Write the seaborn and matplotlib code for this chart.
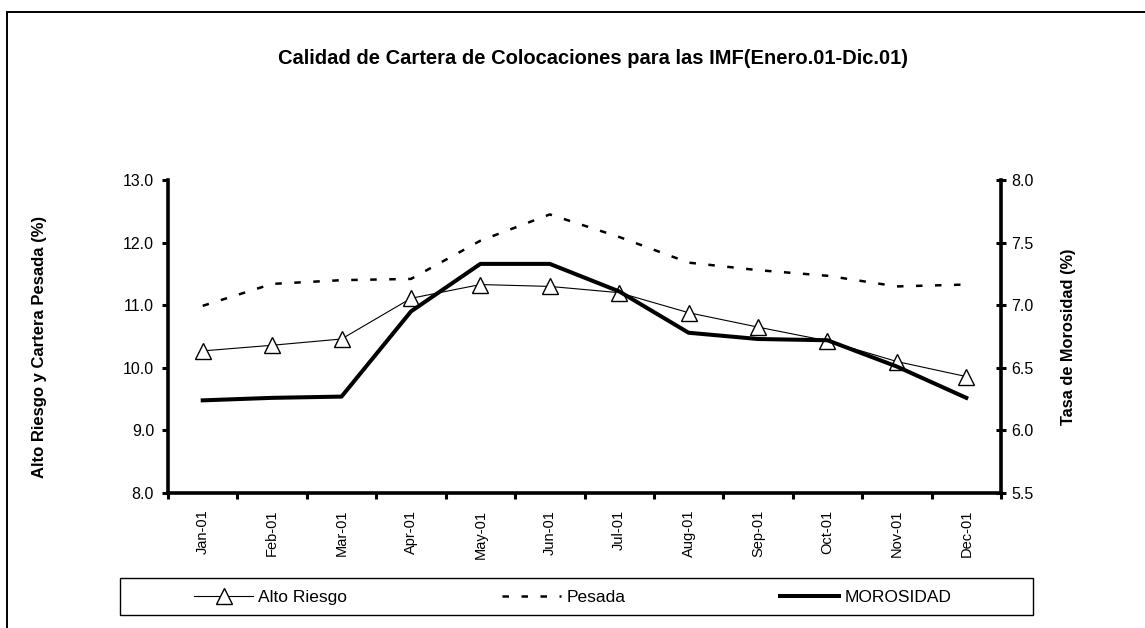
import matplotlib
matplotlib.use("Agg")
import matplotlib.pyplot as plt
from matplotlib.patches import Rectangle
from matplotlib.lines import Line2D
import seaborn as sns
import pandas as pd
import numpy as np

months = ["Jan-01", "Feb-01", "Mar-01", "Apr-01", "May-01", "Jun-01",
          "Jul-01", "Aug-01", "Sep-01", "Oct-01", "Nov-01", "Dec-01"]
alto_riesgo = [10.27, 10.36, 10.46, 11.11, 11.33, 11.30, 11.20, 10.88, 10.65, 10.43, 10.10, 9.86]
pesada = [10.99, 11.34, 11.40, 11.42, 12.03, 12.45, 12.09, 11.68, 11.56, 11.47, 11.30, 11.33]
morosidad = [6.24, 6.26, 6.27, 6.95, 7.33, 7.33, 7.11, 6.78, 6.73, 6.72, 6.51, 6.26]

left_ticks = [8.0, 9.0, 10.0, 11.0, 12.0, 13.0]
right_ticks = [5.5, 6.0, 6.5, 7.0, 7.5, 8.0]

title = "Calidad de Cartera de Colocaciones para las IMF(Enero.01-Dic.01)"
ylabel_left = "Alto Riesgo y Cartera Pesada (%)"
ylabel_right = "Tasa de Morosidad (%)"
legend_labels = ["Alto Riesgo", "Pesada", "MOROSIDAD"]

plt.rcParams['font.family'] = ['Liberation Sans', 'DejaVu Sans']

df = pd.DataFrame({"idx": np.arange(len(months)), "month": months,
                   "alto": alto_riesgo, "pesada": pesada, "moro": morosidad})

W, H = 1145, 628
fig = plt.figure(figsize=(W / 100, H / 100), dpi=100)
fig.patch.set_facecolor("white")
ax = fig.add_axes([168 / W, 1 - 493 / H, (1001 - 168) / W, (493 - 180) / H])
ax2 = ax.twinx()

DASH = (0, (2.6, 5.0))
sns.lineplot(data=df, x="idx", y="alto", ax=ax, color="black", lw=0.8,
             marker="^", markersize=11, markerfacecolor="white",
             markeredgecolor="black", markeredgewidth=1.0, zorder=3)
sns.lineplot(data=df, x="idx", y="pesada", ax=ax, color="black", lw=1.8,
             linestyle=DASH, zorder=2)
sns.lineplot(data=df, x="idx", y="moro", ax=ax2, color="black", lw=2.9, zorder=2)

ax.set_xlim(-0.5, len(months) - 0.5)
ax.set_ylim(8.0, 13.0)
ax2.set_ylim(5.5, 8.0)
ax.set_yticks(left_ticks)
ax.set_yticklabels([f"{v:.1f}" for v in left_ticks], fontsize=11.5)
ax2.set_yticks(right_ticks)
ax2.set_yticklabels([f"{v:.1f}" for v in right_ticks], fontsize=11.5)

ax.set_xticks(np.arange(-0.5, len(months), 1.0))
ax.set_xticklabels([])
ax.set_xticks(np.arange(len(months)), minor=True)
ax.set_xticklabels(months, minor=True, rotation=90, fontsize=10.5)
ax.tick_params(axis="x", which="major", direction="out", length=4.5, width=2.2)
ax.tick_params(axis="x", which="minor", length=0, pad=12)
ax.tick_params(axis="y", direction="out", length=4.5, width=2.2, pad=5.5)
ax2.tick_params(axis="y", direction="inout", length=7, width=2.2, pad=4)

for a in (ax, ax2):
    a.set_xlabel("")
    a.set_ylabel("")
    a.spines["top"].set_visible(False)
    for s in ("left", "right", "bottom"):
        a.spines[s].set_linewidth(2.6)
        a.spines[s].set_color("black")
ax.spines["right"].set_visible(False)
ax2.spines["left"].set_visible(False)
ax2.spines["bottom"].set_visible(False)

fig.text(593 / W, 1 - 58 / H, title, ha="center", va="center",
         fontsize=14.5, fontweight="bold")
fig.text(40 / W, 1 - 347 / H, ylabel_left, rotation=90, ha="center", va="center",
         fontsize=12, fontweight="bold")
fig.text(1068 / W, 1 - 337 / H, ylabel_right, rotation=90, ha="center", va="center",
         fontsize=11.8, fontweight="bold")

handles = [
    Line2D([], [], color="black", lw=0.8, marker="^", markersize=11,
           markerfacecolor="white", markeredgecolor="black", markeredgewidth=1.0),
    Line2D([], [], color="black", lw=1.8, linestyle=DASH),
    Line2D([], [], color="black", lw=2.9),
]
leg_x = [194, 502, 780]
for h, lab, x in zip(handles, legend_labels, leg_x):
    fig.legend([h], [lab], loc="center left",
               bbox_to_anchor=(x / W, 1 - 597 / H),
               fontsize=12.5, frameon=False, handlelength=3.4,
               handletextpad=0.3, borderpad=0, borderaxespad=0)

fig.patches.append(Rectangle((120 / W, 1 - 615 / H), (1033 - 120) / W, 37 / H,
                             transform=fig.transFigure, fill=False,
                             edgecolor="black", lw=1.0))

fig.patches.append(Rectangle((7 / W, -0.1), 2.0, (1 - 12 / H) + 0.1,
                             transform=fig.transFigure, fill=False,
                             edgecolor="black", lw=1.4))

fig.savefig("out.png", dpi=100, facecolor="white")
